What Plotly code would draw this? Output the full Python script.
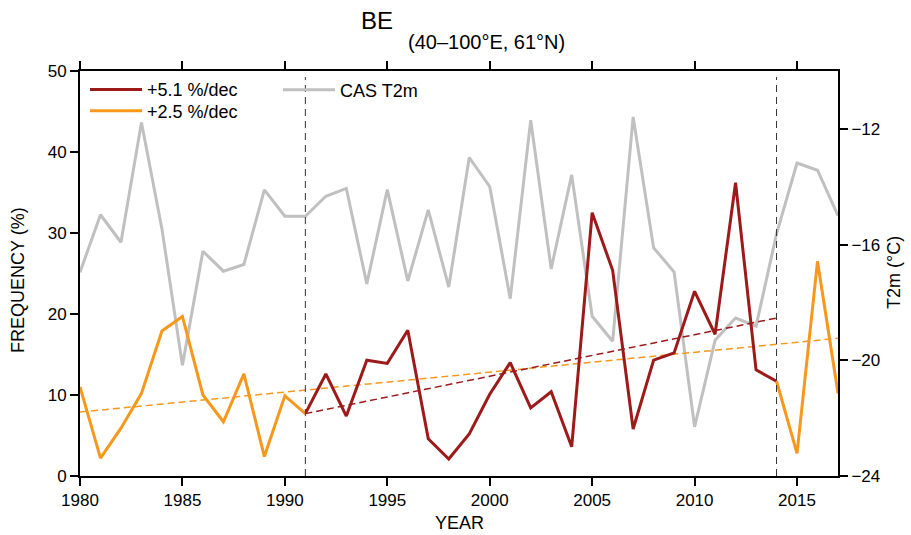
import plotly.graph_objects as go

years_orange1 = list(range(1980, 1992))
orange1 = [11.0, 2.2, 5.9, 10.2, 17.9, 19.7, 10.0, 6.7, 12.6, 2.4, 9.9, 7.7]

years_red = list(range(1991, 2015))
red = [7.7, 12.6, 7.4, 14.3, 13.9, 18.0, 4.6, 2.1, 5.2, 10.1, 14.0, 8.4, 10.4,
       3.6, 32.5, 25.4, 5.8, 14.3, 15.2, 22.8, 17.5, 36.2, 13.1, 11.7]

years_orange2 = list(range(2014, 2018))
orange2 = [11.7, 2.8, 26.5, 10.2]

years_t2m = list(range(1980, 2018))
t2m = [-16.96, -14.97, -15.92, -11.78, -15.46, -20.17, -16.23, -16.92, -16.69, -14.11,
       -15.02, -15.02, -14.33, -14.06, -17.36, -14.10, -17.26, -14.80, -17.47, -12.99,
       -14.00, -17.87, -11.70, -16.84, -13.59, -18.48, -19.34, -11.59, -16.11, -16.95,
       -22.30, -19.31, -18.54, -18.82, -15.63, -13.18, -13.43, -15.00]

trend_orange_x = [1980, 2017]
trend_orange_y = [7.9, 17.0]
trend_red_x = [1991, 2014]
trend_red_y = [7.7, 19.5]

vlines = [1991, 2014]

RED = "#9c1a1a"
ORANGE = "#f7981d"
GRAY = "#c0c0c0"
FONT = "Liberation Sans, Arial, Helvetica, sans-serif"

W, H = 911, 535
L, R, T, B = 80, 73, 71, 59
PW, PH = W - L - R, H - T - B


def px2paper(x, y):
    return (x - L) / PW, (H - B - y) / PH


fig = go.Figure()

# temperature on primary y (drawn beneath)
fig.add_trace(go.Scatter(x=years_t2m, y=t2m, mode="lines", name="CAS T2m",
                         line=dict(color=GRAY, width=3), yaxis="y", legend="legend2"))

fig.add_trace(go.Scatter(x=trend_orange_x, y=trend_orange_y, mode="lines", showlegend=False,
                         line=dict(color=ORANGE, width=1.5, dash="7px,4px"), yaxis="y2"))
fig.add_trace(go.Scatter(x=trend_red_x, y=trend_red_y, mode="lines", showlegend=False,
                         line=dict(color=RED, width=1.5, dash="7px,4px"), yaxis="y2"))

fig.add_trace(go.Scatter(x=years_red, y=red, mode="lines", name="+5.1 %/dec",
                         line=dict(color=RED, width=3), yaxis="y2", legend="legend"))
fig.add_trace(go.Scatter(x=years_orange1, y=orange1, mode="lines", name="+2.5 %/dec",
                         line=dict(color=ORANGE, width=3), yaxis="y2", legend="legend3"))
fig.add_trace(go.Scatter(x=years_orange2, y=orange2, mode="lines", showlegend=False,
                         line=dict(color=ORANGE, width=3), yaxis="y2"))

for v in vlines:
    fig.add_shape(type="line", x0=v, x1=v, xref="x", y0=0, y1=0.985, yref="paper",
                  line=dict(color="#333333", width=1, dash="7px,5px"), layer="above")

axis_common = dict(showline=True, linecolor="black", linewidth=2, ticks="outside",
                   ticklen=8, tickwidth=2, tickcolor="black", showgrid=False,
                   zeroline=False, automargin=False,
                   tickfont=dict(size=17, color="black", family=FONT))

leg_common = dict(bgcolor="rgba(0,0,0,0)", font=dict(size=18), itemwidth=52,
                  xanchor="left", yanchor="middle")

lx1, ly1 = px2paper(85, 89.7)
_, ly3 = px2paper(85, 111)
lx2, ly2 = px2paper(278, 90)

fig.update_layout(
    width=W, height=H,
    margin=dict(l=L, r=R, t=T, b=B),
    plot_bgcolor="white", paper_bgcolor="white",
    font=dict(family=FONT, color="black", size=17),
    xaxis=dict(range=[1980, 2017], tickvals=list(range(1980, 2016, 5)), mirror="ticks",
               **axis_common),
    yaxis=dict(range=[-24, -10], side="right", tickvals=[-24, -20, -16, -12], **axis_common),
    yaxis2=dict(range=[0, 50], side="left", overlaying="y",
                tickvals=[0, 10, 20, 30, 40, 50], **axis_common),
    legend=dict(x=lx1, y=ly1, **leg_common),
    legend2=dict(x=lx2, y=ly2, **leg_common),
    legend3=dict(x=lx1, y=ly3, **leg_common),
)

texts = [
    ("BE", 377, 21, 24, 0),
    ("(40–100°E, 61°N)", 486, 42, 20, 0),
    ("YEAR", 459, 523, 18, 0),
    ("FREQUENCY (%)", 18, 280, 18, -90),
    ("T2m (°C)", 894, 273, 18, -90),
]
for txt, x, y, size, ang in texts:
    ax, ay = px2paper(x, y)
    fig.add_annotation(text=txt, x=ax, y=ay, xref="paper", yref="paper", showarrow=False,
                       xanchor="center", yanchor="middle", textangle=ang,
                       font=dict(size=size, family=FONT, color="black"))

fig.write_html("out.html")
